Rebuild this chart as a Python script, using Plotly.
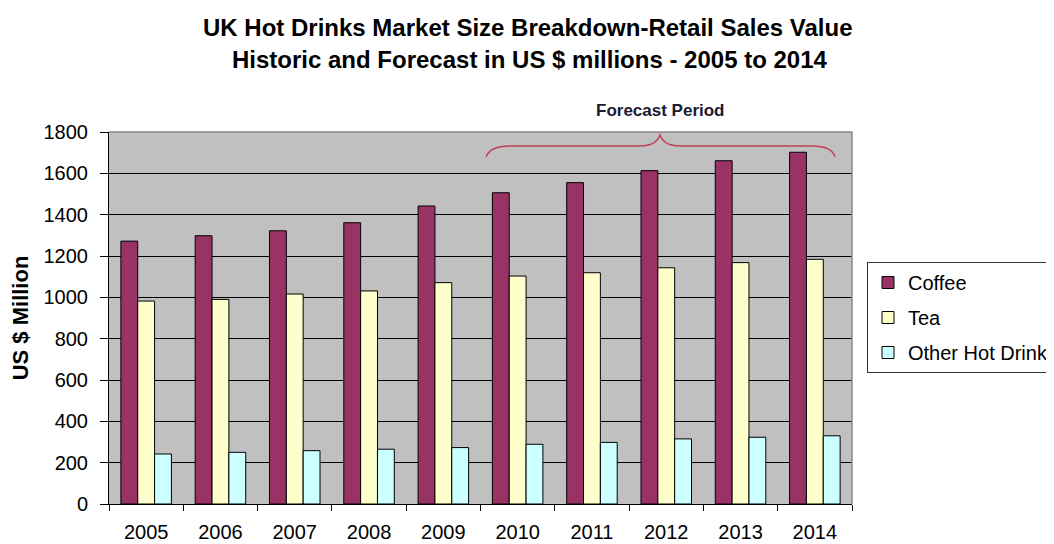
import plotly.graph_objects as go

years = ["2005", "2006", "2007", "2008", "2009", "2010", "2011", "2012", "2013", "2014"]
coffee = [1272, 1298, 1322, 1361, 1442, 1506, 1555, 1613, 1661, 1702]
tea = [982, 990, 1016, 1031, 1071, 1103, 1119, 1143, 1168, 1184]
other = [242, 250, 258, 265, 273, 289, 298, 315, 323, 330]
series_names = ["Coffee", "Tea", "Other Hot Drinks"]
colors = ["#993366", "#FFFFCC", "#CCFFFF"]
y_ticks = [0, 200, 400, 600, 800, 1000, 1200, 1400, 1600, 1800]

FONT = "Liberation Sans, Arial, sans-serif"

fig = go.Figure()
for name, vals, col in zip(series_names, [coffee, tea, other], colors):
    fig.add_trace(go.Bar(
        x=years, y=vals, name=name, legendgroup=name,
        marker=dict(color=col, line=dict(color="#000000", width=1)),
    ))

# page body has an 8px margin: lay out in reference pixels, shifted by OFF
OFF = 8
W, H = 1054 - OFF, 544 - OFF
L, R, T, B = 109 - OFF, 852 - OFF, 132 - OFF, 504 - OFF

def px(x):
    return (x - OFF - L) / (R - L)

def py(y):
    return (B - (y - OFF)) / (B - T)

fig.update_layout(
    width=W, height=H,
    margin=dict(l=L, r=W - R, t=T, b=H - B, pad=0, autoexpand=False),
    paper_bgcolor="white",
    plot_bgcolor="#C0C0C0",
    barmode="group",
    bargap=0.32,
    bargroupgap=0,
    font=dict(family=FONT, color="#000000"),
    showlegend=True,
    legend=dict(
        x=px(867), y=py(262), xanchor="left", yanchor="top",
        bgcolor="white", bordercolor="#333333", borderwidth=1,
        font=dict(size=20, family=FONT, color="#000000"),
        traceorder="grouped", tracegroupgap=6,
        itemwidth=30,
    ),
    xaxis=dict(
        type="category",
        showline=True, linecolor="#000000", linewidth=1,
        ticks="outside", ticklen=6, tickcolor="#000000", tickson="boundaries",
        tickfont=dict(size=20, family=FONT),
        ticklabelstandoff=10,
        showgrid=False,
    ),
    yaxis=dict(
        range=[0, 1800], tickvals=y_ticks,
        showline=True, linecolor="#000000", linewidth=1,
        ticks="outside", ticklen=8, tickcolor="#000000",
        tickfont=dict(size=20, family=FONT),
        ticklabelstandoff=8,
        showgrid=True, gridcolor="#000000", gridwidth=1,
        zeroline=False,
        title=dict(text="<b>US $ Million</b>", font=dict(size=22, family=FONT), standoff=12),
    ),
    annotations=[
        dict(text="<b>UK Hot Drinks Market Size Breakdown-Retail Sales Value</b>",
             xref="paper", yref="paper", x=px(528), y=py(27), xanchor="center", yanchor="middle",
             showarrow=False, font=dict(size=24, family=FONT)),
        dict(text="<b>Historic and Forecast in US $ millions - 2005 to 2014</b>",
             xref="paper", yref="paper", x=px(530), y=py(60), xanchor="center", yanchor="middle",
             showarrow=False, font=dict(size=24, family=FONT)),
        dict(text="<b>Forecast Period</b>",
             xref="paper", yref="paper", x=px(660), y=py(110), xanchor="center", yanchor="middle",
             showarrow=False, font=dict(size=17, family=FONT, color="#1a1a33")),
    ],
    shapes=[
        dict(type="path", xref="paper", yref="paper", layer="above",
             path="M 0,1 L 1,1 L 1,0",
             line=dict(color="#888888", width=1.5)),
        dict(type="path", xref="paper", yref="paper", layer="above",
             path=(f"M {px(486)},{py(157)} Q {px(490)},{py(146)} {px(510)},{py(146)} "
                   f"L {px(640)},{py(146)} Q {px(656)},{py(146)} {px(660)},{py(135)} "
                   f"Q {px(664)},{py(146)} {px(680)},{py(146)} "
                   f"L {px(812)},{py(146)} Q {px(832)},{py(146)} {px(835)},{py(157)}"),
             line=dict(color="#C0405A", width=1.5)),
    ],
)

fig.write_html("out.html")
